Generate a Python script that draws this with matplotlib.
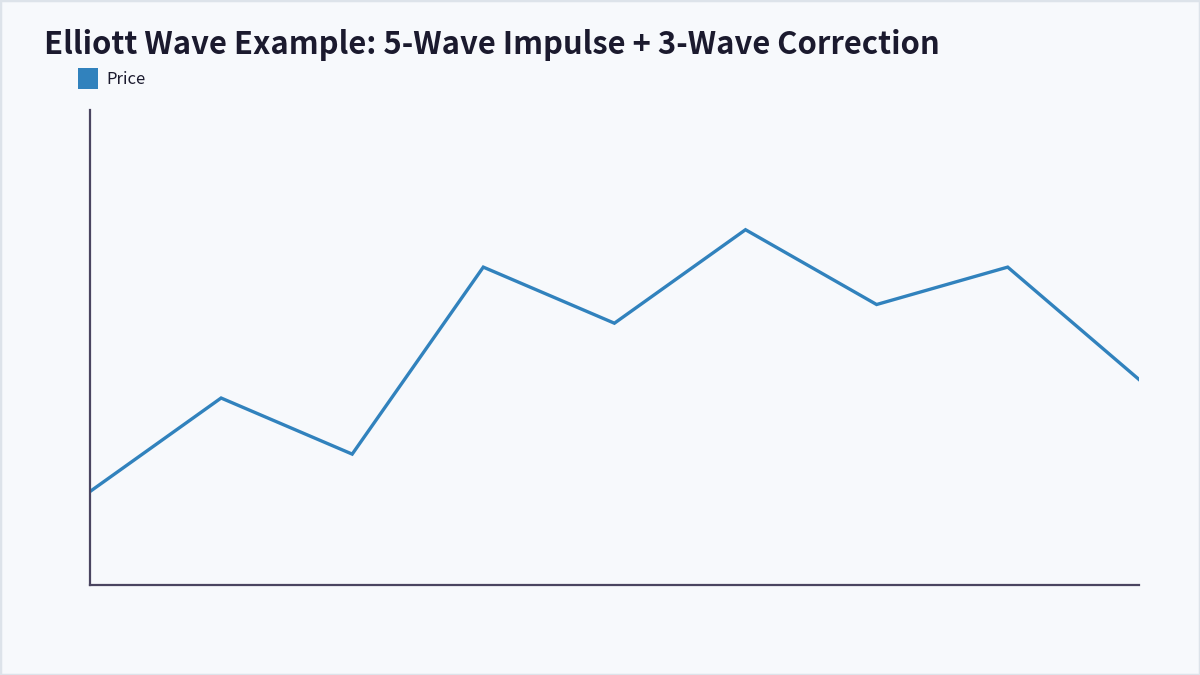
import matplotlib.pyplot as plt
from matplotlib.patches import Patch, Rectangle

# Elliott wave turning points: start, 1, 2, 3, 4, 5, A, B, C
points = ['0', '1', '2', '3', '4', '5', 'A', 'B', 'C']
price = [5, 10, 7, 17, 14, 19, 15, 17, 11]

bg = '#f7f9fc'
line_color = '#3182bd'
axis_color = '#4a4560'

plt.rcParams['font.family'] = ['Noto Sans CJK KR', 'DejaVu Sans']

fig = plt.figure(figsize=(12, 6.75), dpi=100, facecolor=bg)
fig.patches.append(Rectangle((0, 0), 1, 1, transform=fig.transFigure,
                             fill=False, edgecolor='#dde3ea', linewidth=2.5))
ax = fig.add_axes([0.075, 0.1333, 0.874, 0.7037])
ax.set_facecolor(bg)

ax.plot(range(len(points)), price, color=line_color, linewidth=2.4,
        solid_joinstyle='miter')
ax.set_xlim(0, len(points) - 1)
ax.set_ylim(0, 25.4)

for side in ['top', 'right']:
    ax.spines[side].set_visible(False)
for side in ['left', 'bottom']:
    ax.spines[side].set_color(axis_color)
    ax.spines[side].set_linewidth(1.6)
ax.set_xticks([]); ax.set_yticks([])

fig.text(44 / 1200, 1 - 54 / 675, 'Elliott Wave Example: 5-Wave Impulse + 3-Wave Correction',
         fontsize=22.3, fontweight='bold', color='#1b1a2e', ha='left', va='baseline')

ax.legend(handles=[Patch(facecolor=line_color, label='Price')],
          loc='upper left', bbox_to_anchor=(66 / 1200, 1 - 56 / 675),
          bbox_transform=fig.transFigure, frameon=False, fontsize=12,
          handlelength=1.25, handleheight=1.6, handletextpad=0.45,
          labelcolor='#1b1a2e', borderpad=0.2)

fig.savefig('out.png', dpi=100, facecolor=bg)
